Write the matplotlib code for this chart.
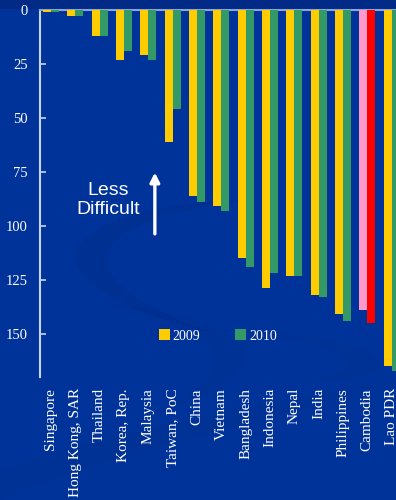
import matplotlib
matplotlib.use("Agg")
import matplotlib.pyplot as plt
import numpy as np
from matplotlib.patches import Patch, PathPatch, Rectangle
from matplotlib.path import Path

countries = ["Singapore", "Hong Kong, SAR", "Thailand", "Korea, Rep.", "Malaysia",
             "Taiwan, PoC", "China", "Vietnam", "Bangladesh", "Indonesia", "Nepal",
             "India", "Philippines", "Cambodia", "Lao PDR"]
rank_2009 = [1, 3, 12, 23, 21, 61, 86, 91, 115, 129, 123, 132, 141, 139, 165]
rank_2010 = [1, 3, 12, 19, 23, 46, 89, 93, 119, 122, 123, 133, 144, 145, 167]
highlight = "Cambodia"

BG = "#003399"
YELLOW = "#ffcc00"
GREEN = "#339966"
PINK = "#ff99cc"
RED = "#ff0000"

fig = plt.figure(figsize=(3.96, 5.0), dpi=100, facecolor=BG)

# darker strip along the top edge
fig.patches.append(Rectangle((0, 0.982), 1, 0.018, transform=fig.transFigure,
                             facecolor="#002a85", edgecolor="none", zorder=-2))

# faint background swooshes (figure pixel coords, y measured from top)
def swoosh(pts, alpha):
    verts = [(x / 396, 1 - y / 500) for x, y in pts]
    codes = [Path.MOVETO, Path.CURVE4, Path.CURVE4, Path.CURVE4,
             Path.CURVE4, Path.CURVE4, Path.CURVE4, Path.CLOSEPOLY]
    verts.append(verts[0])
    fig.patches.append(PathPatch(Path(verts, codes), transform=fig.transFigure,
                                 facecolor="#002a85", edgecolor="none",
                                 alpha=alpha, zorder=-1))

swoosh([(260, 198), (50, 205), (0, 280), (210, 332),
        (70, 282), (60, 222), (260, 198)], 0.3)
swoosh([(90, 300), (330, 330), (250, 390), (130, 420),
        (230, 385), (270, 340), (90, 300)], 0.22)
swoosh([(0, 470), (150, 420), (300, 400), (396, 380),
        (300, 415), (150, 440), (0, 500)], 0.22)
swoosh([(200, 330), (420, 330), (420, 390), (300, 380),
        (380, 370), (360, 340), (200, 330)], 0.2)

ax = fig.add_axes([40 / 396, 1 - 377 / 500, 365 / 396, 367 / 500])
ax.set_facecolor("none")

x = np.arange(len(countries))
w = 0.33
c09 = [PINK if c == highlight else YELLOW for c in countries]
c10 = [RED if c == highlight else GREEN for c in countries]
ax.bar(x - w / 2, rank_2009, width=w, color=c09, zorder=3)
ax.bar(x + w / 2, rank_2010, width=w, color=c10, zorder=3)

ax.set_xlim(-0.45, 14.55)
ax.set_ylim(170, 0)
ax.set_yticks([0, 25, 50, 75, 100, 125, 150])
ax.set_xticks(x)
ax.set_xticklabels(countries, rotation=90, family="Liberation Serif",
                   fontsize=11, color="white")
for lab in ax.get_yticklabels():
    lab.set_family("Liberation Serif")
ax.tick_params(axis="y", direction="in", length=4, width=1.2, color="#c8d4ee",
               labelcolor="white", labelsize=10.5, pad=9)
ax.tick_params(axis="x", length=0, pad=8)

for s in ("right", "bottom"):
    ax.spines[s].set_visible(False)
ax.spines["left"].set_color("#c8d4ee")
ax.spines["left"].set_linewidth(1.5)
ax.spines["top"].set_color("#8fa3d6")
ax.spines["top"].set_linewidth(1.5)

ax.text(2.37, 88, "Less\nDifficult", ha="center", va="center",
        family="Liberation Sans", fontsize=14, color="white", linespacing=1.15)
ax.annotate("", xy=(4.27, 74), xytext=(4.27, 105),
            arrowprops=dict(arrowstyle="-|>,head_length=0.55,head_width=0.28",
                            color="white", lw=2.4))

handles = [Patch(facecolor=YELLOW, label="2009"), Patch(facecolor=GREEN, label="2010")]
ax.legend(handles=handles, loc="center", bbox_to_anchor=(0.55, 0.328),
          bbox_transform=fig.transFigure, ncol=2, frameon=False,
          handlelength=0.8, handleheight=0.8, handletextpad=0.2,
          columnspacing=2.5, prop={"family": "Liberation Serif", "size": 10},
          labelcolor="white")

fig.savefig("out.png", dpi=100, facecolor=BG)
